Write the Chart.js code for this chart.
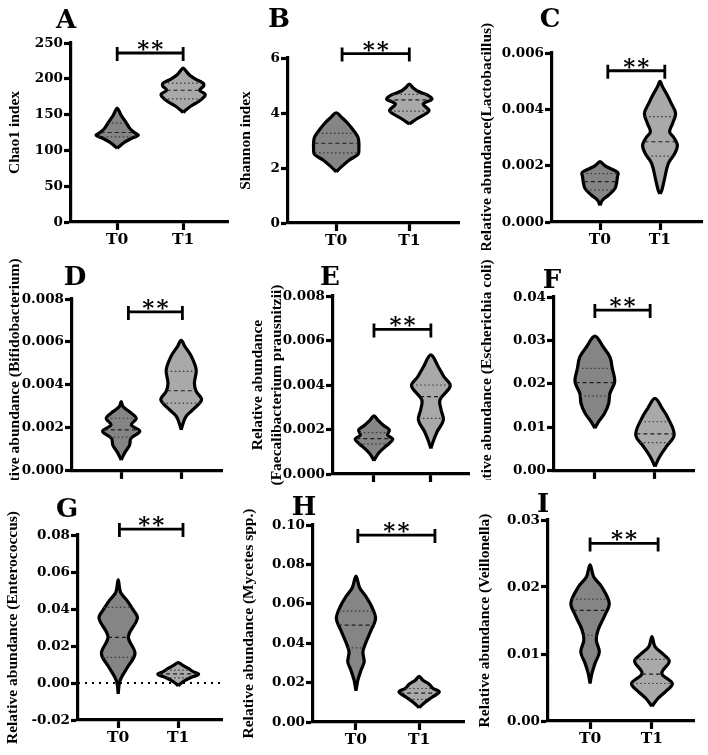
<!DOCTYPE html>
<html>
<head>
<meta charset="utf-8">
<script src="https://cdn.jsdelivr.net/npm/chart.js@4"></script>
<style>
  body { margin: 0; background: #fff; width: 708px; height: 755px; position: relative; overflow: hidden; }
  canvas { position: absolute; }
</style>
</head>
<body>
<script>
        // Groups on the x axis
        const groups = ['T0', 'T1'];

        // Violin profiles: [value, half width in group spacing], bottom tip -> top tip
        // Box stats: [lower quartile, median, upper quartile] as [value, half width]
        // Sig brackets: [from group, to group, value]

        // A - Chao1
        const chaoTicks = [0, 50, 100, 150, 200, 250];
        const chaoT0 = [[103, 0], [107, 0.05], [112, 0.12], [117, 0.22], [121, 0.32], [125, 0.26], [131, 0.19], [138, 0.14], [145, 0.09], [149, 0.06], [153, 0.04], [159, 0]];
        const chaoT0Box = [[119, 0.28], [125, 0.25], [138, 0.14]];
        const chaoT1 = [[153, 0], [157, 0.05], [162, 0.12], [168, 0.23], [175, 0.32], [179, 0.33], [184, 0.25], [190, 0.31], [194, 0.3], [200, 0.18], [205, 0.1], [210, 0.05], [215, 0]];
        const chaoT1Box = [[172, 0.29], [184, 0.25], [194, 0.29]];
        const chaoSig = [0, 1, 236];

        // B - Shannon
        const shanTicks = [0, 2, 4, 6];
        const shanT0 = [[1.86, 0], [2.04, 0.07], [2.29, 0.18], [2.5, 0.3], [2.7, 0.31], [2.9, 0.31], [3.1, 0.3], [3.32, 0.25], [3.62, 0.16], [3.85, 0.07], [4.01, 0]];
        const shanT0Box = [[2.55, 0.29], [2.9, 0.3], [3.26, 0.25]];
        const shanT1 = [[3.6, 0], [3.8, 0.11], [3.98, 0.23], [4.1, 0.27], [4.33, 0.19], [4.5, 0.31], [4.65, 0.25], [4.8, 0.11], [4.92, 0.05], [5.05, 0]];
        const shanT1Box = [[4.07, 0.26], [4.48, 0.3], [4.68, 0.23]];
        const shanSig = [0.08, 1, 6.16];

        // C - Lactobacillus
        const lactTicks = [0, 0.002, 0.004, 0.006];
        const lactT0 = [[0.59e-3, 0], [0.77e-3, 0.04], [0.95e-3, 0.14], [1.19e-3, 0.25], [1.43e-3, 0.28], [1.6e-3, 0.29], [1.75e-3, 0.3], [1.9e-3, 0.17], [2.0e-3, 0.08], [2.14e-3, 0]];
        const lactT0Box = [[1.13e-3, 0.23], [1.43e-3, 0.27], [1.72e-3, 0.29]];
        const lactT1 = [[1.0e-3, 0], [1.13e-3, 0.03], [1.48e-3, 0.07], [2.08e-3, 0.14], [2.45e-3, 0.25], [2.73e-3, 0.29], [3.0e-3, 0.23], [3.2e-3, 0.16], [3.5e-3, 0.21], [3.86e-3, 0.26], [4.2e-3, 0.19], [4.51e-3, 0.12], [4.81e-3, 0.04], [4.99e-3, 0]];
        const lactT1Box = [[2.34e-3, 0.21], [2.85e-3, 0.26], [3.74e-3, 0.25]];
        const lactSig = [0.13, 1.08, 5.37e-3];

        // D - Bifidobacterium
        const bifiTicks = [0, 0.002, 0.004, 0.006, 0.008];
        const bifiT0 = [[0.51e-3, 0], [0.85e-3, 0.06], [1.2e-3, 0.14], [1.5e-3, 0.16], [1.85e-3, 0.31], [2.14e-3, 0.17], [2.45e-3, 0.25], [2.75e-3, 0.14], [3.0e-3, 0.03], [3.23e-3, 0]];
        const bifiT0Box = [[1.57e-3, 0.19], [1.91e-3, 0.29], [2.45e-3, 0.24]];
        const bifiT1 = [[1.91e-3, 0], [2.2e-3, 0.03], [2.53e-3, 0.08], [2.84e-3, 0.19], [3.31e-3, 0.34], [3.7e-3, 0.25], [4.08e-3, 0.22], [4.7e-3, 0.25], [5.33e-3, 0.17], [5.8e-3, 0.06], [6.07e-3, 0]];
        const bifiT1Box = [[3.15e-3, 0.31], [3.73e-3, 0.24], [4.63e-3, 0.24]];
        const bifiSig = [0.12, 1.02, 7.4e-3];

        // E - Faecalibacterium prausnitzii
        const faecTicks = [0, 0.002, 0.004, 0.006, 0.008];
        const faecT0 = [[0.6e-3, 0], [0.93e-3, 0.08], [1.23e-3, 0.2], [1.56e-3, 0.33], [1.75e-3, 0.24], [1.98e-3, 0.27], [2.2e-3, 0.16], [2.42e-3, 0.07], [2.61e-3, 0]];
        const faecT0Box = [[1.35e-3, 0.26], [1.59e-3, 0.31], [1.86e-3, 0.25]];
        const faecT1 = [[1.15e-3, 0], [1.53e-3, 0.05], [1.9e-3, 0.11], [2.43e-3, 0.22], [2.88e-3, 0.18], [3.33e-3, 0.16], [3.96e-3, 0.34], [4.37e-3, 0.23], [4.82e-3, 0.13], [5.35e-3, 0]];
        const faecT1Box = [[2.5e-3, 0.21], [3.48e-3, 0.19], [4.0e-3, 0.33]];
        const faecSig = [0, 1, 6.5e-3];

        // F - Escherichia coli
        const ecoTicks = [0, 0.01, 0.02, 0.03, 0.04];
        const ecoT0 = [[0.98e-2, 0], [1.13e-2, 0.06], [1.32e-2, 0.16], [1.55e-2, 0.23], [1.78e-2, 0.25], [2.05e-2, 0.33], [2.36e-2, 0.29], [2.62e-2, 0.25], [2.85e-2, 0.14], [3.1e-2, 0]];
        const ecoT0Box = [[1.72e-2, 0.24], [2.03e-2, 0.32], [2.36e-2, 0.28]];
        const ecoT1 = [[0.1e-2, 0], [0.33e-2, 0.08], [0.56e-2, 0.19], [0.83e-2, 0.32], [1.21e-2, 0.22], [1.44e-2, 0.12], [1.67e-2, 0]];
        const ecoT1Box = [[0.65e-2, 0.25], [0.85e-2, 0.31], [1.13e-2, 0.24]];
        const ecoSig = [0, 0.92, 3.7e-2];

        // G - Enterococcus
        const entTicks = [-0.02, 0, 0.02, 0.04, 0.06, 0.08];
        const entT0 = [[-0.59e-2, 0], [0, 0.02], [0.34e-2, 0.06], [0.88e-2, 0.16], [1.6e-2, 0.28], [2.5e-2, 0.17], [3.5e-2, 0.32], [3.95e-2, 0.25], [4.49e-2, 0.14], [4.9e-2, 0.04], [5.57e-2, 0]];
        const entT0Box = [[1.39e-2, 0.26], [2.47e-2, 0.17], [4.09e-2, 0.24]];
        const entT1 = [[-0.16e-2, 0], [-0.05e-2, 0.03], [0.13e-2, 0.11], [0.31e-2, 0.22], [0.47e-2, 0.34], [0.61e-2, 0.25], [0.79e-2, 0.17], [0.97e-2, 0.07], [1.1e-2, 0]];
        const entT1Box = [[0.28e-2, 0.2], [0.49e-2, 0.32], [0.7e-2, 0.2]];
        const entSig = [0.02, 1.08, 8.32e-2];

        // H - Mycetes spp.
        const mycTicks = [0, 0.02, 0.04, 0.06, 0.08, 0.10];
        const mycT0 = [[1.58e-2, 0], [2.12e-2, 0.03], [2.63e-2, 0.08], [3.05e-2, 0.13], [3.56e-2, 0.11], [3.98e-2, 0.15], [4.66e-2, 0.24], [5.25e-2, 0.31], [5.85e-2, 0.25], [6.36e-2, 0.16], [6.8e-2, 0.06], [7.4e-2, 0]];
        const mycT0Box = [[3.76e-2, 0.13], [4.92e-2, 0.29], [5.63e-2, 0.27]];
        const mycT1 = [[0.73e-2, 0], [1.02e-2, 0.1], [1.27e-2, 0.21], [1.53e-2, 0.32], [1.73e-2, 0.21], [1.92e-2, 0.16], [2.12e-2, 0.06], [2.32e-2, 0]];
        const mycT1Box = [[1.15e-2, 0.16], [1.47e-2, 0.3], [1.7e-2, 0.22]];
        const mycSig = [0.03, 1.25, 9.49e-2];

        // I - Veillonella
        const veiTicks = [0, 0.01, 0.02, 0.03];
        const veiT0 = [[0.56e-2, 0], [0.71e-2, 0.03], [0.86e-2, 0.08], [1.03e-2, 0.15], [1.21e-2, 0.1], [1.36e-2, 0.13], [1.58e-2, 0.24], [1.76e-2, 0.31], [2.0e-2, 0.19], [2.15e-2, 0.06], [2.33e-2, 0]];
        const veiT0Box = [[1.28e-2, 0.11], [1.65e-2, 0.28], [1.82e-2, 0.29]];
        const veiT1 = [[0.22e-2, 0], [0.34e-2, 0.1], [0.44e-2, 0.22], [0.56e-2, 0.33], [0.71e-2, 0.16], [0.89e-2, 0.28], [0.99e-2, 0.19], [1.11e-2, 0.05], [1.26e-2, 0]];
        const veiT1Box = [[0.56e-2, 0.32], [0.7e-2, 0.16], [0.92e-2, 0.27]];
        const veiSig = [0, 1.1, 2.65e-2];

        // Panel layout (canvas box and plot box in page px)
        const panels = [
            { tag: 'A', title: 'Chao1 index', ticks: chaoTicks, dec: 0, v: [chaoT0, chaoT1], box: [chaoT0Box, chaoT1Box], sig: chaoSig,
              canvas: [0, 0, 236, 250], plot: [71, 43, 228, 222], xr: [-0.70, 1.68], titleX: 15, tagAt: [66, 28], xLabels: true },
            { tag: 'B', title: 'Shannon index', ticks: shanTicks, dec: 0, v: [shanT0, shanT1], box: [shanT0Box, shanT1Box], sig: shanSig,
              canvas: [236, 0, 236, 250], plot: [288, 58, 459, 223], xr: [-0.66, 1.68], titleX: 246, tagAt: [279, 27], xLabels: true },
            { tag: 'C', title: 'Relative abundance(Lactobacillus)', ticks: lactTicks, dec: 3, v: [lactT0, lactT1], box: [lactT0Box, lactT1Box], sig: lactSig,
              canvas: [472, 0, 236, 250], plot: [552, 53, 702, 222], xr: [-0.8, 1.7], titleX: 487, tagAt: [550, 27], xLabels: true },
            { tag: 'D', title: 'Relative abundance (Bifidobacterium)', ticks: bifiTicks, dec: 3, v: [bifiT0, bifiT1], box: [bifiT0Box, bifiT1Box], sig: bifiSig,
              canvas: [0, 250, 236, 230], plot: [72, 299, 222, 471], xr: [-0.82, 1.68], titleX: 15, tagAt: [75, 285], xLabels: false },
            { tag: 'E', title: ['Relative abundance', '(Faecalibacterium prausnitzii)'], ticks: faecTicks, dec: 3, v: [faecT0, faecT1], box: [faecT0Box, faecT1Box], sig: faecSig,
              canvas: [236, 250, 236, 240], plot: [333, 296, 469, 474], xr: [-0.72, 1.67], titleX: 258, tagAt: [330, 285], xLabels: false },
            { tag: 'F', title: 'Relative abundance (Escherichia coli)', ticks: ecoTicks, dec: 2, v: [ecoT0, ecoT1], box: [ecoT0Box, ecoT1Box], sig: ecoSig,
              canvas: [472, 250, 236, 230], plot: [554, 297, 694, 471], xr: [-0.68, 1.65], titleX: 487, tagAt: [552, 288], xLabels: false },
            { tag: 'G', title: 'Relative abundance (Enterococcus)', ticks: entTicks, dec: 2, v: [entT0, entT1], box: [entT0Box, entT1Box], sig: entSig,
              canvas: [0, 490, 236, 265], plot: [78, 535, 222, 720], xr: [-0.67, 1.73], titleX: 13, tagAt: [67, 517], xLabels: true, zero: true },
            { tag: 'H', title: 'Relative abundance (Mycetes spp.)', ticks: mycTicks, dec: 2, v: [mycT0, mycT1], box: [mycT0Box, mycT1Box], sig: mycSig,
              canvas: [236, 490, 236, 265], plot: [313, 525, 464, 722], xr: [-0.68, 1.71], titleX: 249, tagAt: [304, 515], xLabels: true },
            { tag: 'I', title: 'Relative abundance (Veillonella)', ticks: veiTicks, dec: 2, v: [veiT0, veiT1], box: [veiT0Box, veiT1Box], sig: veiSig,
              canvas: [472, 490, 236, 265], plot: [548, 520, 694, 721], xr: [-0.68, 1.68], titleX: 485, tagAt: [543, 512], xLabels: true },
        ];

        const FILLS = ['#858585', '#a9a9a9'];
        const NUM_FONT = { family: 'DejaVu Serif', weight: 'bold', size: 13.5 };
        const GROUP_FONT = { family: 'DejaVu Serif', weight: 'bold', size: 15.5 };
        const TITLE_FONT = { family: 'Liberation Serif', weight: 'bold', size: 15.5, lineHeight: 1.2 };

        // Significance bracket, stars and panel letter
        const marks = {
            id: 'marks',
            afterDatasetsDraw(chart, args, opts) {
                const { ctx, scales: { x, y } } = chart;
                const [a, b, v] = opts.sig;
                const x1 = x.getPixelForValue(a), x2 = x.getPixelForValue(b), yy = y.getPixelForValue(v);
                ctx.save();
                ctx.strokeStyle = '#000';
                ctx.lineWidth = 2.8;
                ctx.beginPath();
                ctx.moveTo(x1, yy); ctx.lineTo(x2, yy);
                ctx.moveTo(x1, yy - 6); ctx.lineTo(x1, yy + 8);
                ctx.moveTo(x2, yy - 6); ctx.lineTo(x2, yy + 8);
                ctx.stroke();
                ctx.fillStyle = '#000';
                ctx.textAlign = 'center';
                ctx.textBaseline = 'alphabetic';
                ctx.font = 'bold 23px "DejaVu Serif"';
                ctx.letterSpacing = '2px';
                ctx.fillText('**', (x1 + x2) / 2 + 1, yy + 3);
                ctx.letterSpacing = '0px';
                ctx.font = 'bold 26px "DejaVu Serif"';
                ctx.fillText(opts.tag, opts.tagX, opts.tagY);
                ctx.restore();
            }
        };

        function buildDatasets(p) {
            const sets = [];
            p.v.forEach((prof, g) => {
                const right = prof.map(([y, w]) => ({ x: g + w, y }));
                const left = prof.slice(0, -1).reverse().map(([y, w]) => ({ x: g - w, y }));
                sets.push({
                    data: right.concat(left), borderColor: '#000', borderWidth: 3.2, backgroundColor: FILLS[g],
                    fill: 'shape', tension: 0.35, pointRadius: 0, borderJoinStyle: 'round', order: 3
                });
                p.box[g].forEach(([y, w], k) => {
                    sets.push({
                        data: [{ x: g - w, y }, { x: g + w, y }], borderColor: k === 1 ? '#1e1e1e' : '#3a3a3a',
                        borderWidth: 1.2, borderDash: k === 1 ? [4, 3] : [1.5, 2.5], pointRadius: 0, fill: false, order: 1
                    });
                });
            });
            if (p.zero) {
                sets.push({
                    data: [{ x: p.xr[0], y: 0 }, { x: p.xr[1], y: 0 }], borderColor: '#000', borderWidth: 2.2,
                    borderDash: [2, 5], pointRadius: 0, fill: false, order: 5
                });
            }
            return sets;
        }

        panels.forEach(p => {
            const [cx, cy, cw, ch] = p.canvas;
            const [L, T, R, B] = p.plot;
            const cv = document.createElement('canvas');
            cv.width = cw; cv.height = ch;
            cv.style.left = cx + 'px';
            cv.style.top = cy + 'px';
            document.body.appendChild(cv);

            new Chart(cv, {
                type: 'line',
                data: { datasets: buildDatasets(p) },
                plugins: [marks],
                options: {
                    responsive: false,
                    animation: false,
                    devicePixelRatio: 1,
                    layout: { padding: { left: 0, bottom: 0, top: T - cy, right: cx + cw - R } },
                    plugins: {
                        legend: { display: false },
                        tooltip: { enabled: false },
                        marks: { sig: p.sig, tag: p.tag, tagX: p.tagAt[0] - cx, tagY: p.tagAt[1] - cy }
                    },
                    scales: {
                        x: {
                            type: 'linear', min: p.xr[0], max: p.xr[1],
                            afterBuildTicks: s => { s.ticks = groups.map((g, i) => ({ value: i })); },
                            afterFit: s => { s.height = ch - (B - cy); },
                            border: { display: true, color: '#000', width: 3.2 },
                            grid: { drawOnChartArea: false, tickLength: 8, tickWidth: 3.2, tickColor: '#000' },
                            ticks: { display: p.xLabels, autoSkip: false, maxRotation: 0, padding: 1, color: '#000', font: GROUP_FONT, callback: v => groups[v] }
                        },
                        y: {
                            min: p.ticks[0], max: p.ticks[p.ticks.length - 1],
                            afterBuildTicks: s => { s.ticks = p.ticks.map(v => ({ value: v })); },
                            afterFit: s => { s.width = L - cx; },
                            border: { display: true, color: '#000', width: 3.2 },
                            grid: { drawOnChartArea: false, tickLength: 7, tickWidth: 3.2, tickColor: '#000' },
                            ticks: { autoSkip: false, padding: 1, color: '#000', font: NUM_FONT, callback: v => Number(v).toFixed(p.dec) },
                            title: {
                                display: true, text: p.title, color: '#000', font: TITLE_FONT,
                                padding: { top: p.titleX - cx - 9, bottom: 0 }
                            }
                        }
                    }
                }
            });
        });
</script>
</body>
</html>
